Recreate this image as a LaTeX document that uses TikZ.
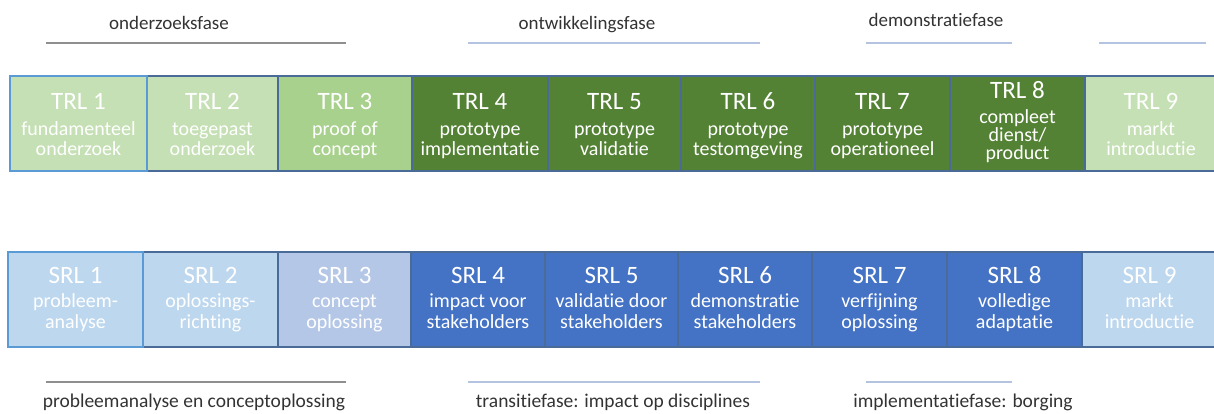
\documentclass[tikz,border=0pt]{standalone}
\usepackage{fontspec}
\setmainfont{Carlito}[Ligatures=NoCommon]
\definecolor{trlL}{HTML}{C5E0B4}
\definecolor{trlM}{HTML}{A9D18E}
\definecolor{trlD}{HTML}{548235}
\definecolor{srlL}{HTML}{BDD7EE}
\definecolor{srlM}{HTML}{B4C7E7}
\definecolor{srlD}{HTML}{4472C4}
\definecolor{bordc}{HTML}{4A6A98}
\definecolor{bordl}{HTML}{5B9BD5}
\definecolor{phtext}{HTML}{333333}
\definecolor{lgray}{HTML}{8F8F8F}
\definecolor{lblue}{HTML}{B4C4E0}
\begin{document}
\begin{tikzpicture}[x=1pt,y=-1pt,
  box/.style={draw=bordc, line width=1.1pt, anchor=north west, inner sep=0pt, outer sep=0pt, minimum height=95pt},
  ttl/.style={anchor=base, text=white, font=\fontsize{25}{25}\selectfont, inner sep=0pt},
  sub/.style={anchor=base, text=white, font=\fontsize{20}{20.5}\selectfont, align=center, inner sep=0pt},
  phase/.style={anchor=base, text=phtext, font=\fontsize{19}{19}\selectfont, inner sep=0pt},
  gline/.style={draw=lgray, line width=1.8pt},
  bline/.style={draw=lblue, line width=1.8pt}]
\useasboundingbox (0,0) rectangle (1214,414);
% top row (TRL)
\foreach \n/\l/\r/\f/\s in {
  1/10/147/trlL/{fundamenteel\\onderzoek},
  2/147/278/trlL/{toegepast\\onderzoek},
  3/278/412/trlM/{proof of\\concept},
  4/412/548/trlD/{prototype\\implementatie},
  5/548/681/trlD/{prototype\\validatie},
  6/681/815/trlD/{prototype\\testomgeving},
  7/815/950/trlD/{prototype\\operationeel},
  9/1085/1217/trlL/{markt\\introductie}}{
  \pgfmathsetmacro\w{\r-\l}
  \pgfmathsetmacro\c{(\l+\r)/2}
  \node[box, fill=\f, minimum width=\w pt] (t\n) at (\l,76) {};
  \node[ttl] (tt\n) at (\c,110) {TRL \n};
  \node[sub] (ts\n) at (\c,156) {\s};
}
\node[box, fill=trlD, minimum width=135pt] (t8) at (950,76) {};
\node[ttl] (tt8) at (1017.5,99) {TRL 8};
\node[sub] (ts8) at (1017.5,124) {compleet};
\node[sub] (ts8b) at (1017.5,142) {dienst/};
\node[sub] (ts8c) at (1017.5,160) {product};
\draw[draw=bordl, line width=1.1pt] (t1.north west) rectangle (t1.south east);
% bottom row (SRL)
\foreach \n/\l/\r/\f/\s in {
  1/8/143/srlL/{probleem-\\analyse},
  2/143/278/srlL/{oplossings-\\richting},
  3/278/411/srlM/{concept\\oplossing},
  4/411/545/srlD/{impact voor\\stakeholders},
  5/545/678/srlD/{validatie door\\stakeholders},
  6/678/812/srlD/{demonstratie\\stakeholders},
  7/812/947/srlD/{verfijning\\oplossing},
  8/947/1082/srlD/{volledige\\adaptatie},
  9/1082/1217/srlL/{markt\\introductie}}{
  \pgfmathsetmacro\w{\r-\l}
  \pgfmathsetmacro\c{(\l+\r)/2}
  \node[box, fill=\f, minimum width=\w pt] (s\n) at (\l,252) {};
  \node[ttl] (st\n) at (\c,283) {SRL \n};
  \node[sub] (ss\n) at (\c,328) {\s};
}
\draw[draw=bordl, line width=1.1pt] (s1.north west) rectangle (s1.south east);
% phase labels top
\node[phase] (p1) at (169,30) {onderzoeksfase};
\node[phase] (p2) at (587,30) {ontwikkelingsfase};
\node[phase] (p3) at (936,27) {demonstratiefase};
\coordinate (a1) at (46,43); \coordinate (a2) at (346,43);
\coordinate (b1) at (468,43); \coordinate (b2) at (760,43);
\coordinate (c1) at (866,43); \coordinate (c2) at (1012,43);
\coordinate (d1) at (1099,43); \coordinate (d2) at (1206,43);
\draw[gline] (a1) -- (a2);
\draw[bline] (b1) -- (b2);
\draw[bline] (c1) -- (c2);
\draw[bline] (d1) -- (d2);
% phase labels bottom
\node[phase, font=\fontsize{19.5}{19.5}\selectfont] (q1) at (194,407) {probleemanalyse en conceptoplossing};
\node[phase, font=\fontsize{19.5}{19.5}\selectfont] (q2) at (613,407) {transitiefase: impact op disciplines};
\node[phase, font=\fontsize{19.5}{19.5}\selectfont] (q3) at (963,407) {implementatiefase: borging};
\coordinate (e1) at (46,382); \coordinate (e2) at (346,382);
\coordinate (f1) at (468,382); \coordinate (f2) at (760,382);
\coordinate (g1) at (866,382); \coordinate (g2) at (1012,382);
\draw[gline] (e1) -- (e2);
\draw[bline] (f1) -- (f2);
\draw[bline] (g1) -- (g2);
\end{tikzpicture}
\end{document}
